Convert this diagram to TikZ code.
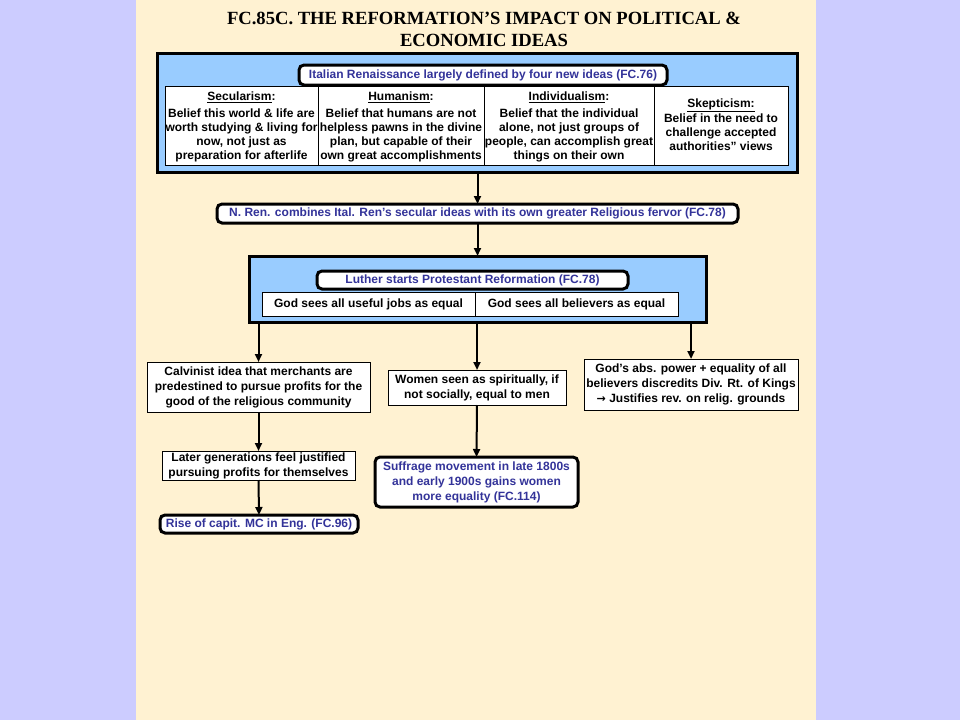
\documentclass[tikz,border=0pt]{standalone}
\usepackage{fontspec}
\setmainfont{Liberation Sans}
\newfontfamily\titlefont{Liberation Serif}
\newfontfamily\symfont{DejaVu Sans}
\usetikzlibrary{arrows.meta}
\definecolor{lav}{HTML}{CCCCFF}
\definecolor{cream}{HTML}{FFF2D2}
\definecolor{bluefill}{HTML}{99CCFF}
\definecolor{navytext}{HTML}{333399}
\tikzset{
  every node/.style={inner sep=0pt, outer sep=0pt, align=center},
  txt/.style={font=\bfseries\fontsize{12}{14}\selectfont},
  bigbox/.style={draw=black, line width=3pt, fill=bluefill},
  roundlbl/.style={draw=black, line width=3pt, fill=white, rounded corners=5pt, text=navytext, font=\bfseries\fontsize{12}{15}\selectfont},
  plainbox/.style={draw=black, line width=1pt, fill=white, font=\bfseries\fontsize{12}{15}\selectfont},
  arr/.style={line width=2pt, -{Triangle[length=8pt,width=7pt]}},
}
\begin{document}
\begin{tikzpicture}[x=1pt,y=-1pt]
\useasboundingbox (0,0) rectangle (960,720);
\fill[lav] (0,0) rectangle (960,720);
\fill[cream] (136,0) rectangle (816,720);

\node[font=\titlefont\bfseries\fontsize{18.6}{22}\selectfont] (title) at (484,29)
  {FC.85C. THE REFORMATION’S IMPACT ON POLITICAL \&\\ ECONOMIC IDEAS};

% top box
\node[bigbox, minimum width=640pt, minimum height=119pt] (top) at (477,112.5) {};
\node[roundlbl, minimum width=368pt, minimum height=20pt] (ital) at (483,75)
  {Italian Renaissance largely defined by four new ideas (FC.76)};
\node[plainbox, minimum width=153pt, minimum height=79pt] (c1) at (241.5,125.5) {};
\node[plainbox, minimum width=166pt, minimum height=79pt] (c2) at (401,125.5) {};
\node[plainbox, minimum width=170pt, minimum height=79pt] (c3) at (569,125.5) {};
\node[plainbox, minimum width=134pt, minimum height=79pt] (c4) at (721,125.5) {};
\node[txt, anchor=north] (t1) at ([yshift=-6pt]c1.north)
  {\underline{Secularism}:\\[3pt]Belief this world \& life are\\worth studying \& living for\\now, not just as\\preparation for afterlife};
\node[txt, anchor=north] (t2) at ([yshift=-6pt]c2.north)
  {\underline{Humanism}:\\[3pt]Belief that humans are not\\helpless pawns in the divine\\plan, but capable of their\\own great accomplishments};
\node[txt, anchor=north] (t3) at ([yshift=-6pt]c3.north)
  {\underline{Individualism}:\\[3pt]Belief that the individual\\alone, not just groups of\\people, can accomplish great\\things on their own};
\node[txt] (t4) at ([yshift=1pt]c4)
  {\underline{Skepticism:}\\[1pt]Belief in the need to\\challenge accepted\\authorities" views};

\node[roundlbl, minimum width=521pt, minimum height=19pt] (nren) at (477.5,213.5)
  {N. Ren. combines Ital. Ren’s secular ideas with its own greater Religious fervor (FC.78)};

% second box
\node[bigbox, minimum width=457pt, minimum height=66pt] (luthbox) at (477.5,289) {};
\node[roundlbl, minimum width=311pt, minimum height=18pt] (luther) at (472.5,280)
  {Luther starts Protestant Reformation (FC.78)};
\node[plainbox, minimum width=213pt, minimum height=24pt] (jobs) at (368.5,304)
  {God sees all useful jobs as equal};
\node[plainbox, minimum width=203pt, minimum height=24pt] (believers) at (576.5,304)
  {God sees all believers as equal};

\node[plainbox, minimum width=223pt, minimum height=50pt] (calv) at (258.5,387)
  {Calvinist idea that merchants are\\predestined to pursue profits for the\\good of the religious community};
\node[plainbox, minimum width=193pt, minimum height=29pt] (later) at (258.5,465.5)
  {Later generations feel justified\\pursuing profits for themselves};
\node[roundlbl, minimum width=198pt, minimum height=18pt] (rise) at (259,524)
  {Rise of capit. MC in Eng. (FC.96)};

\node[plainbox, minimum width=178pt, minimum height=35pt] (women) at (477,387.5)
  {Women seen as spiritually, if\\not socially, equal to men};
\node[roundlbl, minimum width=203pt, minimum height=50pt] (suff) at (476.5,482)
  {Suffrage movement in late 1800s\\and early 1900s gains women\\more equality (FC.114)};

\node[plainbox, minimum width=214pt, minimum height=51pt] (gods) at (691,384.5)
  {God’s abs. power + equality of all\\believers discredits Div. Rt. of Kings\\{\symfont\bfseries\fontsize{11}{15}\selectfont→} Justifies rev. on relig. grounds};

% arrows
\draw[arr] (top.south -| nren.north) -- (nren.north);
\draw[arr] (nren.south) -- (nren.south |- luthbox.north);
\draw[arr] (calv.north |- luthbox.south) -- (calv.north);
\draw[arr] (women.north |- luthbox.south) -- (women.north);
\draw[arr] (gods.north |- luthbox.south) -- (gods.north);
\draw[arr] (calv.south) -- (later.north);
\draw[arr] (later.south) -- (rise.north);
\draw[arr] (women.south) -- (suff.north);
\end{tikzpicture}
\end{document}
